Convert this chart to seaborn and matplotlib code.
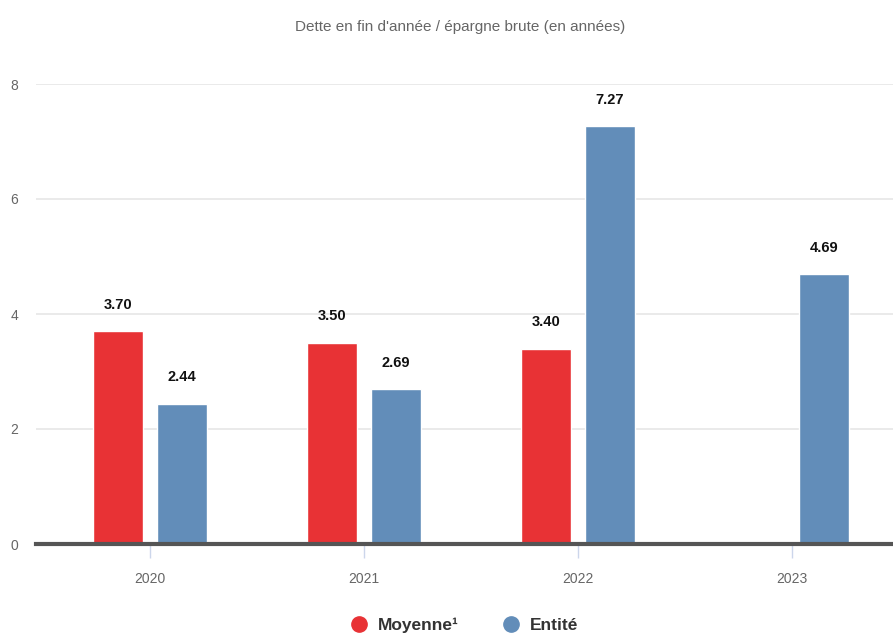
import matplotlib
matplotlib.use("Agg")
import matplotlib.pyplot as plt
import seaborn as sns
import pandas as pd
import numpy as np
from matplotlib.lines import Line2D

years = ["2020", "2021", "2022", "2023"]
moyenne = [3.70, 3.50, 3.40, np.nan]
entite = [2.44, 2.69, 7.27, 4.69]
series_names = ["Moyenne¹", "Entité"]
colors = ["#E83235", "#628DB9"]
title = "Dette en fin d'année / épargne brute (en années)"
yticks = [0, 2, 4, 6, 8]

df = pd.DataFrame({
    "annee": years * 2,
    "valeur": moyenne + entite,
    "serie": [series_names[0]] * len(years) + [series_names[1]] * len(years),
})

sns.set_theme(style="white")
plt.rcParams["font.family"] = ["Liberation Sans", "DejaVu Sans"]

fig = plt.figure(figsize=(8.93, 6.35), dpi=100)
ax = fig.add_axes([36 / 893, 1 - 544 / 635, (893 - 36) / 893, (544 - 84) / 635])

sns.barplot(data=df, x="annee", y="valeur", hue="serie", order=years,
            hue_order=series_names, palette=colors, width=0.6, gap=0.22,
            saturation=1, legend=False, ax=ax, zorder=3)

for cont in ax.containers:
    ax.bar_label(cont, fmt="%.2f", padding=14, fontsize=10.5, color="#111111",
                 fontweight="bold")

ax.set_ylim(0, 8)
ax.set_xlim(-0.533, 3.472)
ax.set_yticks(yticks)
ax.set_yticklabels([str(t) for t in yticks], color="#666666", fontsize=10)
ax.yaxis.grid(True, color="#e6e6e6", linewidth=1.2, zorder=0)
ax.tick_params(axis="y", length=0, pad=13)
ax.tick_params(axis="x", bottom=True, length=10, width=1, labelsize=10, pad=10)
ax.tick_params(axis="x", color="#ccd6eb", labelcolor="#666666")
for s in ["top", "right", "left"]:
    ax.spines[s].set_visible(False)
ax.spines["bottom"].set_color("#555555")
ax.spines["bottom"].set_linewidth(3)
ax.spines["bottom"].set_zorder(4)
ax.set_xlabel("")
ax.set_ylabel("")

fig.text(0.515, 1 - 27 / 635, title, ha="center", va="center",
         fontsize=11, color="#666666")

handles = [Line2D([0], [0], marker="o", linestyle="", markersize=11,
                  markerfacecolor=c, markeredgecolor=c) for c in colors]
fig.legend(handles, series_names, loc="center", bbox_to_anchor=(0.515, 1 - 625 / 635),
           ncol=2, frameon=False, handletextpad=0.1, columnspacing=2.0,
           prop={"size": 12.5, "weight": "bold"}, labelcolor="#333333")

fig.savefig("out.png", dpi=100)
